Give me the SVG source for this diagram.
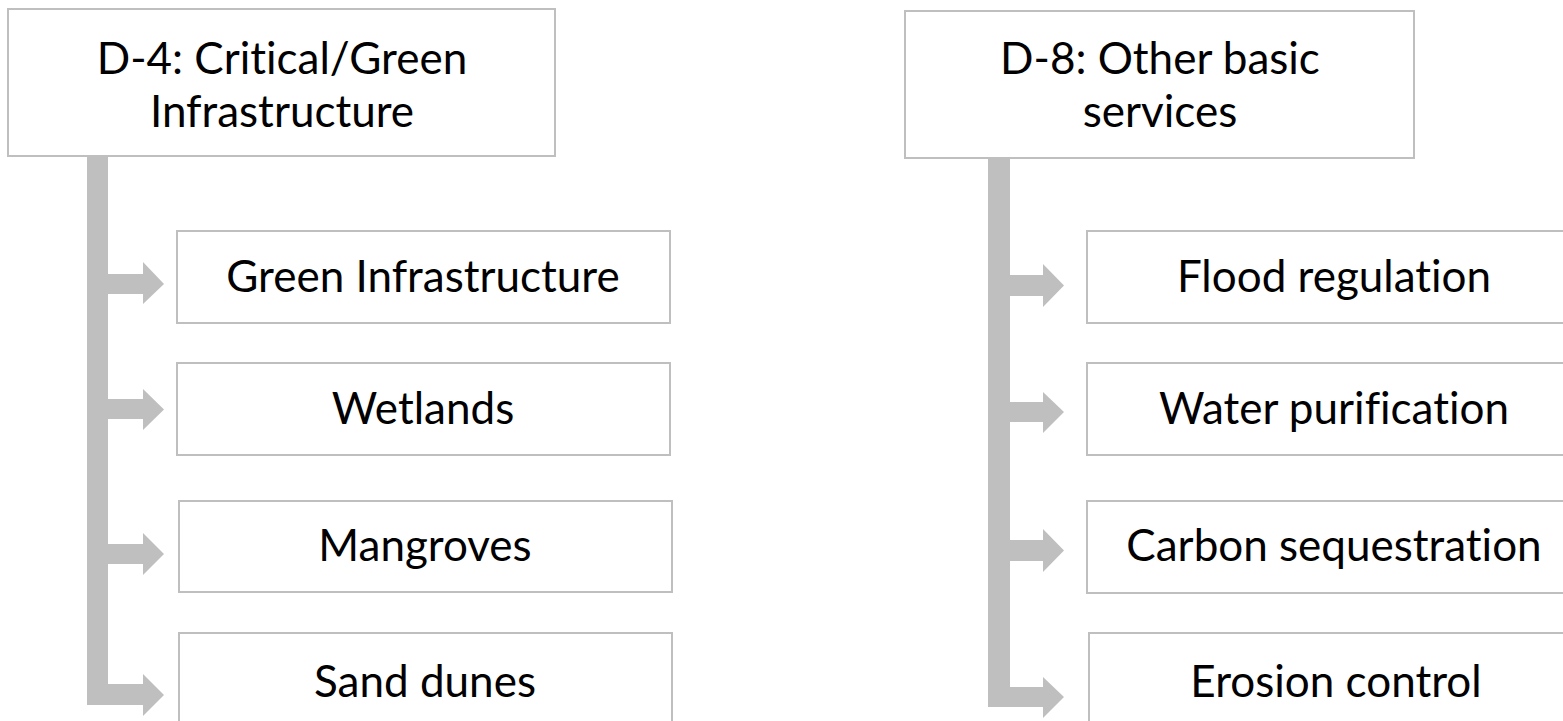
<svg xmlns="http://www.w3.org/2000/svg" width="1563" height="721" viewBox="0 0 1563 721">
<style>
.box{fill:#ffffff;stroke:#bfbfbf;stroke-width:2}
.conn{fill:#bfbfbf;stroke:none}
text{font-family:Lato,"Open Sans","Liberation Sans",sans-serif;font-size:44px;fill:#000000;text-anchor:middle;font-variant-ligatures:none;font-feature-settings:"liga" 0,"dlig" 0}
</style>
<rect width="1563" height="721" fill="#ffffff"/>
<g id="connectors">
  <rect class="conn" x="87" y="156" width="21" height="549"/>
  <polygon class="conn" points="108,274 143,274 143,262 164,284 143,304 143,294 108,294"/>
  <polygon class="conn" points="108,399 143,399 143,389 164,409.5 143,430 143,419 108,419"/>
  <polygon class="conn" points="108,544 143,544 143,533 164,554 143,575 143,564 108,564"/>
  <polygon class="conn" points="87,684 143,684 143,674 164,695 143,716 143,705 87,705"/>
  <rect class="conn" x="988" y="158" width="22" height="549"/>
  <polygon class="conn" points="1010,275 1043,275 1043,264 1064,285.5 1043,307 1043,296 1010,296"/>
  <polygon class="conn" points="1010,402 1043,402 1043,392 1064,412 1043,433 1043,422 1010,422"/>
  <polygon class="conn" points="1010,540 1043,540 1043,529 1064,550.5 1043,572 1043,561 1010,561"/>
  <polygon class="conn" points="988,687 1043,687 1043,677 1064,697 1043,718 1043,707 988,707"/>
</g>
<g id="d4">
  <rect class="box" x="8" y="9" width="547" height="147"/>
  <text x="282" y="74">D-4: Critical/Green</text>
  <text x="282" y="127">Infrastructure</text>
</g>
<g id="green-infrastructure">
  <rect class="box" x="177" y="231" width="493" height="92"/>
  <text x="423" y="292">Green Infrastructure</text>
</g>
<g id="wetlands">
  <rect class="box" x="177" y="363" width="493" height="92"/>
  <text x="423" y="424">Wetlands</text>
</g>
<g id="mangroves">
  <rect class="box" x="179" y="501" width="493" height="91"/>
  <text x="425" y="561">Mangroves</text>
</g>
<g id="sand-dunes">
  <rect class="box" x="179" y="633" width="493" height="100"/>
  <text x="425" y="697">Sand dunes</text>
</g>
<g id="d8">
  <rect class="box" x="905" y="11" width="509" height="147"/>
  <text x="1160" y="74">D-8: Other basic</text>
  <text x="1160" y="127">services</text>
</g>
<g id="flood-regulation">
  <rect class="box" x="1087" y="231" width="495" height="92"/>
  <text x="1334" y="292">Flood regulation</text>
</g>
<g id="water-purification">
  <rect class="box" x="1087" y="363" width="495" height="92"/>
  <text x="1334" y="424">Water purification</text>
</g>
<g id="carbon-sequestration">
  <rect class="box" x="1087" y="501" width="495" height="92"/>
  <text x="1334" y="561">Carbon sequestration</text>
</g>
<g id="erosion-control">
  <rect class="box" x="1089" y="633" width="495" height="100"/>
  <text x="1336" y="697">Erosion control</text>
</g>
</svg>
